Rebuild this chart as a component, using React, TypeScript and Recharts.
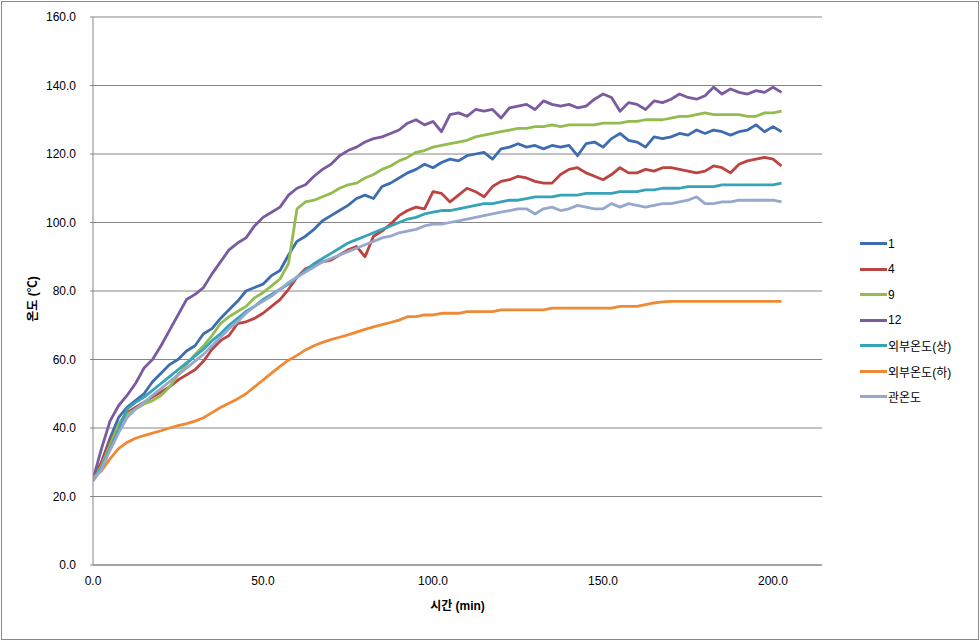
import React from 'react';
import { LineChart, Line, XAxis, YAxis, CartesianGrid, Legend } from 'recharts';

const times = [0, 2.5, 5, 7.5, 10, 12.5, 15, 17.5, 20, 22.5, 25, 27.5, 30, 32.5, 35, 37.5, 40, 42.5, 45, 47.5, 50, 52.5, 55, 57.5, 60, 62.5, 65, 67.5, 70, 72.5, 75, 77.5, 80, 82.5, 85, 87.5, 90, 92.5, 95, 97.5, 100, 102.5, 105, 107.5, 110, 112.5, 115, 117.5, 120, 122.5, 125, 127.5, 130, 132.5, 135, 137.5, 140, 142.5, 145, 147.5, 150, 152.5, 155, 157.5, 160, 162.5, 165, 167.5, 170, 172.5, 175, 177.5, 180, 182.5, 185, 187.5, 190, 192.5, 195, 197.5, 200, 202.5];

const s1 = [25, 30, 37, 43, 46, 48, 50, 53.5, 56, 58.5, 60, 62.5, 64, 67.5, 69, 72, 74.5, 77, 80, 81, 82, 84.5, 86, 90.5, 94.5, 96, 98, 100.5, 102, 103.5, 105, 107, 108, 107, 110.5, 111.5, 113, 114.5, 115.5, 117, 116, 117.5, 118.5, 118, 119.5, 120, 120.5, 118.5, 121.5, 122, 123, 122, 122.5, 121.5, 122.5, 122, 122.5, 119.5, 123, 123.5, 122, 124.5, 126, 124, 123.5, 122, 125, 124.5, 125, 126, 125.5, 127, 126, 127, 126.5, 125.5, 126.5, 127, 128.5, 126.5, 128, 126.5];

const s4 = [25, 30, 36, 41, 44.5, 46, 47.5, 49, 50.5, 52, 54, 55.5, 57, 59.5, 63, 65.5, 67, 70.5, 71, 72, 73.5, 75.5, 77.5, 80.5, 84, 86.5, 87.5, 88.5, 89, 90.5, 92, 93, 90, 96, 97.5, 99.5, 102, 103.5, 104.5, 104, 109, 108.5, 106, 108, 110, 109, 107.5, 110.5, 112, 112.5, 113.5, 113, 112, 111.5, 111.5, 114, 115.5, 116, 114.5, 113.5, 112.5, 114, 116, 114.5, 114.5, 115.5, 115, 116, 116, 115.5, 115, 114.5, 115, 116.5, 116, 114.5, 117, 118, 118.5, 119, 118.5, 116.5];

const s9 = [25, 29, 35, 41, 44, 45.5, 47, 48, 49.5, 52, 55.5, 58.5, 61.5, 64, 67, 70.5, 72.5, 74, 75.5, 78, 79.5, 81.5, 83.5, 88, 104, 106, 106.5, 107.5, 108.5, 110, 111, 111.5, 113, 114, 115.5, 116.5, 118, 119, 120.5, 121, 122, 122.5, 123, 123.5, 124, 125, 125.5, 126, 126.5, 127, 127.5, 127.5, 128, 128, 128.5, 128, 128.5, 128.5, 128.5, 128.5, 129, 129, 129, 129.5, 129.5, 130, 130, 130, 130.5, 131, 131, 131.5, 132, 131.5, 131.5, 131.5, 131.5, 131, 131, 132, 132, 132.5];

const s12 = [25, 34, 42, 46.5, 49.5, 53, 57.5, 60, 64, 68.5, 73, 77.5, 79, 81, 85, 88.5, 92, 94, 95.5, 99, 101.5, 103, 104.5, 108, 110, 111, 113.5, 115.5, 117, 119.5, 121, 122, 123.5, 124.5, 125, 126, 127, 129, 130, 128.5, 129.5, 126.5, 131.5, 132, 131, 133, 132.5, 133, 130.5, 133.5, 134, 134.5, 133, 135.5, 134.5, 134, 134.5, 133.5, 134, 136, 137.5, 136.5, 132.5, 135, 134.5, 133, 135.5, 135, 136, 137.5, 136.5, 136, 137, 139.5, 137.5, 139, 138, 137.5, 138.5, 138, 139.5, 138];

const outerUpper = [25, 28.5, 34, 39.5, 45.5, 47.5, 49, 51, 53, 55, 57, 59, 61, 63, 65.5, 67.5, 70, 72, 74, 75.5, 77.5, 79, 80.5, 82, 84, 86, 88, 89.5, 91, 92.5, 94, 95, 96, 97, 98, 99, 100, 101, 101.5, 102.5, 103, 103.5, 103.5, 104, 104.5, 105, 105.5, 105.5, 106, 106.5, 106.5, 107, 107.5, 107.5, 107.5, 108, 108, 108, 108.5, 108.5, 108.5, 108.5, 109, 109, 109, 109.5, 109.5, 110, 110, 110, 110.5, 110.5, 110.5, 110.5, 111, 111, 111, 111, 111, 111, 111, 111.5];

const outerLower = [25.5, 27.5, 31, 34, 35.8, 37, 37.8, 38.5, 39.2, 40, 40.7, 41.3, 42, 43, 44.5, 46, 47.2, 48.5, 50, 52, 54, 56, 58, 59.8, 61.2, 62.8, 64, 65, 65.8, 66.5, 67.2, 68, 68.8, 69.5, 70.2, 70.8, 71.5, 72.5, 72.5, 73, 73, 73.5, 73.5, 73.5, 74, 74, 74, 74, 74.5, 74.5, 74.5, 74.5, 74.5, 74.5, 75, 75, 75, 75, 75, 75, 75, 75, 75.5, 75.5, 75.5, 76, 76.5, 76.8, 77, 77, 77, 77, 77, 77, 77, 77, 77, 77, 77, 77, 77, 77];

const pipeTemp = [24.5, 28, 33.5, 38.5, 43, 45.5, 47.5, 49.5, 51.5, 53.5, 55.5, 57.5, 59.5, 61.5, 64, 66.5, 69, 71, 73.5, 75.5, 77, 78.5, 80.5, 82.5, 84, 85.5, 87, 88.5, 89.5, 90.5, 91.5, 92.5, 93.5, 94.5, 95.5, 96, 97, 97.5, 98, 99, 99.5, 99.5, 100, 100.5, 101, 101.5, 102, 102.5, 103, 103.5, 104, 104, 102.5, 104, 104.5, 103.5, 104, 105, 104.5, 104, 104, 105.5, 104.5, 105.5, 105, 104.5, 105, 105.5, 105.5, 106, 106.5, 107.5, 105.5, 105.5, 106, 106, 106.5, 106.5, 106.5, 106.5, 106.5, 106];

const yTicks = [0, 20, 40, 60, 80, 100, 120, 140, 160];
const xTicks = [0, 50, 100, 150, 200];

const seriesDefs = [
  { key: 's1', name: '1', color: '#3D6DB0', values: s1 },
  { key: 's4', name: '4', color: '#BD4340', values: s4 },
  { key: 's9', name: '9', color: '#93BC4F', values: s9 },
  { key: 's12', name: '12', color: '#7A5B9F', values: s12 },
  { key: 'ou', name: '외부온도(상)', color: '#36A3B9', values: outerUpper },
  { key: 'ol', name: '외부온도(하)', color: '#EE8A36', values: outerLower },
  { key: 'pt', name: '관온도', color: '#97A8CD', values: pipeTemp },
];

const data = times.map((t, i) => {
  const row: Record<string, number> = { t };
  seriesDefs.forEach((s) => {
    row[s.key] = s.values[i];
  });
  return row;
});

const FONT = "'Liberation Sans', 'Noto Sans CJK KR', Arial, sans-serif";

const renderLegend = () => (
  <div style={{ fontFamily: FONT, fontSize: 12, color: '#000' }}>
    {seriesDefs.map((s) => (
      <div key={s.key} style={{ height: 25.5, display: 'flex', alignItems: 'center' }}>
        <div style={{ width: 27, height: 3, background: s.color, marginRight: 1 }} />
        <span style={{ whiteSpace: 'nowrap' }}>{s.name}</span>
      </div>
    ))}
  </div>
);

const XLabel = (props: any) => {
  const vb = props.viewBox || {};
  const cx = vb.x + vb.width / 2;
  return (
    <text x={cx} y={vb.y + 45} textAnchor="middle" fontFamily={FONT} fontSize={12} fontWeight="bold" fill="#000">
      시간 (min)
    </text>
  );
};

const YLabel = (props: any) => {
  const vb = props.viewBox || {};
  const cy = vb.y + vb.height / 2 + 8;
  const x = 37;
  return (
    <text x={x} y={cy} textAnchor="middle" fontFamily={FONT} fontSize={12} fontWeight="bold" fill="#000" transform={`rotate(-90 ${x} ${cy})`}>
      온도 (℃)
    </text>
  );
};

export default function App() {
  return (
    <div style={{ position: 'absolute', left: 0, top: 0, width: 980, height: 642, background: '#fff' }}>
      <LineChart
        width={980}
        height={642}
        data={data}
        margin={{ top: 17, right: 40, left: 0, bottom: 47 }}
      >
        <CartesianGrid horizontal={true} vertical={false} stroke="#868686" strokeWidth={1} />
        <XAxis
          dataKey="t"
          type="number"
          domain={[0, 214.4]}
          ticks={xTicks}
          tickFormatter={(v: number) => v.toFixed(1)}
          height={30}
          tickLine={false}
          tickSize={0}
          tickMargin={11}
          axisLine={{ stroke: '#868686' }}
          tick={{ fontFamily: FONT, fontSize: 12, fill: '#000' }}
          label={<XLabel />}
          allowDataOverflow={true}
        />
        <YAxis
          type="number"
          domain={[0, 160]}
          ticks={yTicks}
          tickFormatter={(v: number) => v.toFixed(1)}
          width={93}
          tickSize={3}
          tickMargin={14}
          tickLine={{ stroke: '#868686' }}
          axisLine={{ stroke: '#868686' }}
          tick={{ fontFamily: FONT, fontSize: 12, fill: '#000' }}
          label={<YLabel />}
          interval={0}
        />
        <Legend
          content={renderLegend}
          layout="vertical"
          verticalAlign="top"
          align="right"
          wrapperStyle={{ position: 'absolute', left: 860, top: 231, width: 118 }}
        />
        {seriesDefs.map((s) => (
          <Line
            key={s.key}
            dataKey={s.key}
            name={s.name}
            stroke={s.color}
            strokeWidth={2.8}
            dot={false}
            type="linear"
            isAnimationActive={false}
            strokeLinejoin="round"
          />
        ))}
      </LineChart>
      <div
        style={{
          position: 'absolute',
          left: 1,
          top: 1,
          width: 976,
          height: 637,
          border: '1px solid #8a8a8a',
          pointerEvents: 'none',
        }}
      />
    </div>
  );
}
